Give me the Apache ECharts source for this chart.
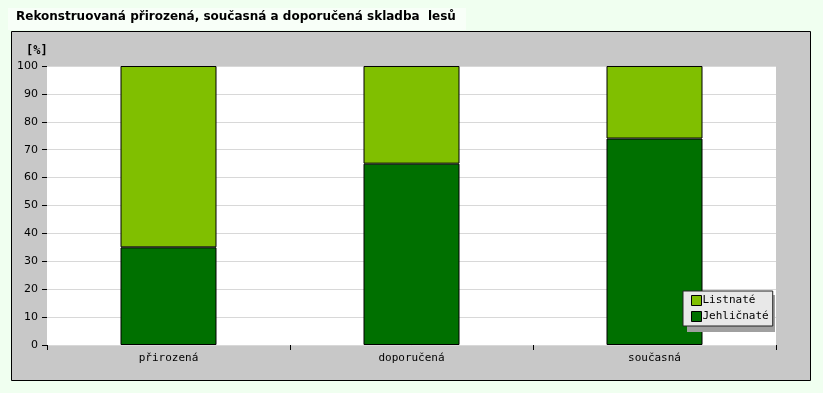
<!DOCTYPE html>
<html><head><meta charset="utf-8">
<script src="https://cdn.jsdelivr.net/npm/echarts@6/dist/echarts.min.js"></script>
<style>html,body{margin:0;padding:0;background:#f0fff0;}#c{width:823px;height:393px;}</style>
</head><body><div id="c"></div>
<script>
const categories = ['přirozená', 'doporučená', 'současná'];
const jehlicnate = [35, 65, 74];
const listnate = [65, 35, 26];
const yTicks = [0, 10, 20, 30, 40, 50, 60, 70, 80, 90, 100];

const chart = echarts.init(document.getElementById('c'), null, {renderer: 'canvas'});
const mono = 'DejaVu Sans Mono';
chart.setOption({
  backgroundColor: '#f0fff0',
  animation: false,
  graphic: [
    {type: 'rect', shape: {x: 8, y: 8, width: 458, height: 22}, style: {fill: '#f8fff8'}, z: -10},
    {type: 'text', left: 16, top: 11, style: {text: 'Rekonstruovaná přirozená, současná a doporučená skladba  lesů', font: 'bold 12px "DejaVu Sans"', fill: '#000'}},
    {type: 'rect', shape: {x: 11.5, y: 31.5, width: 799, height: 349}, style: {fill: '#c8c8c8', stroke: '#000', lineWidth: 1}, z: -5},
    {type: 'text', left: 26, top: 45, style: {text: '[%]', font: 'bold 12px "DejaVu Sans Mono"', fill: '#000'}},
    {type: 'rect', shape: {x: 687, y: 295, width: 88, height: 37}, style: {fill: '#a0a0a0'}, z: 8}
  ],
  grid: {left: 47, top: 66, width: 729, height: 279, backgroundColor: '#fff', show: true, borderWidth: 0},
  legend: {
    orient: 'vertical', left: 683, top: 291, width: 88, height: 37,
    backgroundColor: '#e8e8e8', borderColor: '#222', borderWidth: 1, padding: [4, 4, 4, 8],
    itemWidth: 10, itemHeight: 10, itemGap: 5, z: 10, icon: 'rect',
    textStyle: {fontFamily: mono, fontSize: 11, color: '#000', padding: [0, 0, 0, -4]},
    data: [
      {name: 'Listnaté', itemStyle: {borderColor: '#000', borderWidth: 1}},
      {name: 'Jehličnaté', itemStyle: {borderColor: '#000', borderWidth: 1}}
    ]
  },
  xAxis: {
    type: 'category', data: categories,
    axisLine: {show: false},
    axisTick: {show: true, length: 5, lineStyle: {color: '#000'}},
    axisLabel: {fontFamily: mono, fontSize: 11, color: '#000', margin: 8}
  },
  yAxis: {
    type: 'value', min: 0, max: 100, interval: 10,
    axisLine: {show: false},
    axisTick: {show: true, length: 5, lineStyle: {color: '#000'}},
    axisLabel: {fontFamily: 'DejaVu Sans', fontSize: 11, color: '#000', margin: 9,
      formatter: v => yTicks.includes(v) ? String(v) : ''},
    splitLine: {lineStyle: {color: '#d8d8d8'}}
  },
  series: [
    {name: 'Jehličnaté', type: 'bar', stack: 's', data: jehlicnate, barWidth: 96,
     itemStyle: {color: '#007000', borderColor: '#000', borderWidth: 1}},
    {name: 'Listnaté', type: 'bar', stack: 's', data: listnate, barWidth: 96,
     itemStyle: {color: '#80bf00', borderColor: '#000', borderWidth: 1}}
  ]
});
</script></body></html>
